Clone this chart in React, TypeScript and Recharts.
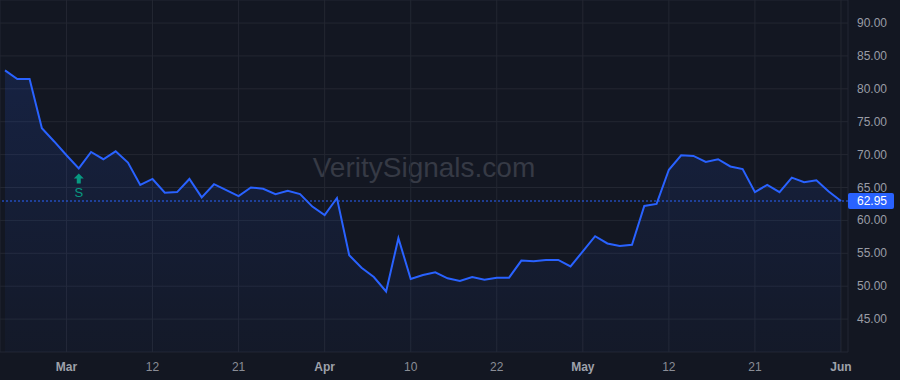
import { ComposedChart, Area, XAxis, YAxis, CartesianGrid, ReferenceLine, ReferenceDot } from "recharts";

// daily closes, one per trading bar
const prices = [
  82.8, 81.5, 81.5, 74.0, 72.0, 69.9, 67.9, 70.4, 69.3, 70.5,
  68.8, 65.4, 66.3, 64.2, 64.3, 66.3, 63.5, 65.5, 64.6, 63.7,
  65.0, 64.8, 64.0, 64.5, 64.0, 62.1, 60.8, 63.4, 54.7, 52.8,
  51.4, 49.2, 57.3, 51.1, 51.7, 52.1, 51.2, 50.8, 51.4, 51.0,
  51.3, 51.3, 53.9, 53.8, 54.0, 54.0, 53.0, 55.3, 57.6, 56.5,
  56.1, 56.3, 62.2, 62.5, 67.7, 69.9, 69.8, 68.9, 69.3, 68.2,
  67.8, 64.3, 65.4, 64.3, 66.5, 65.8, 66.1, 64.4, 62.95,
];

const tickBars = [5, 12, 19, 26, 33, 40, 47, 54, 61, 68];
const tickLabels = ["Mar", "12", "21", "Apr", "10", "22", "May", "12", "21", "Jun"];
const monthLabels = ["Mar", "Apr", "May", "Jun"];
const priceTicks = [45, 50, 55, 60, 65, 70, 75, 80, 85, 90];

const signalBar = 6;
const signalText = "S";
const lastPrice = prices[prices.length - 1];

const data = prices.map((p, i) => ({ i, p }));

const FONT = "'Liberation Sans', Arial, sans-serif";
const BLUE = "#2962ff";
const TEAL = "#089981";

function XTick(props: any) {
  const idx = tickBars.indexOf(props.payload.value);
  const label = tickLabels[idx] ?? "";
  const isMonth = monthLabels.includes(label);
  return (
    <text
      x={props.x}
      y={371}
      textAnchor="middle"
      fontFamily={FONT}
      fontSize={12}
      fontWeight={isMonth ? 700 : 400}
      fill={isMonth ? "#9ea1aa" : "#8a8d96"}
    >
      {label}
    </text>
  );
}

function YTick(props: any) {
  return (
    <text x={857} y={props.y} dy={4} textAnchor="start" fontFamily={FONT} fontSize={12} fill="#9a9da6">
      {Number(props.payload.value).toFixed(2)}
    </text>
  );
}

function PriceLabel(props: any) {
  const vb = props.viewBox || {};
  const x = (vb.x ?? 0) + (vb.width ?? 0);
  const y = vb.y ?? 0;
  return (
    <g>
      <rect x={x} y={y - 8} width={46} height={16} rx={2} fill={BLUE} />
      <text x={x + 24} y={y + 4} textAnchor="middle" fontFamily={FONT} fontSize={12} fill="#ffffff">
        {lastPrice.toFixed(2)}
      </text>
    </g>
  );
}

function SignalMark(props: any) {
  const { cx, cy } = props;
  if (cx == null || cy == null) return null;
  const top = cy + 5;
  return (
    <g>
      <polygon
        points={`${cx},${top} ${cx + 5},${top + 5} ${cx + 2},${top + 5} ${cx + 2},${top + 10} ${cx - 2},${top + 10} ${cx - 2},${top + 5} ${cx - 5},${top + 5}`}
        fill={TEAL}
      />
      <text x={cx} y={top + 24} textAnchor="middle" fontFamily={FONT} fontSize={13} fill={TEAL}>
        {signalText}
      </text>
    </g>
  );
}

export default function App() {
  return (
    <div style={{ position: "relative", width: 900, height: 380, background: "#131722", overflow: "hidden" }}>
      <style>{`body{margin:0}`}</style>
      <div
        style={{
          position: "absolute",
          left: 0,
          width: 848,
          top: 152,
          textAlign: "center",
          fontFamily: FONT,
          fontSize: 28,
          color: "#363a45",
          pointerEvents: "none",
        }}
      >
        VeritySignals.com
      </div>
      <div style={{ position: "absolute", left: 0, top: 0 }}>
        <ComposedChart width={900} height={380} data={data} margin={{ top: 0, right: 0, bottom: 0, left: 0 }}>
          <defs>
            <linearGradient id="areaFill" x1="0" y1="0" x2="0" y2="1">
              <stop offset="0%" stopColor={BLUE} stopOpacity={0.24} />
              <stop offset="100%" stopColor={BLUE} stopOpacity={0.05} />
            </linearGradient>
          </defs>
          <CartesianGrid stroke="#232732" />
          <XAxis
            dataKey="i"
            type="number"
            domain={[-0.407, 68.57]}
            ticks={tickBars}
            allowDataOverflow
            axisLine={false}
            tickLine={false}
            height={28}
            tick={<XTick />}
            interval={0}
          />
          <YAxis
            orientation="right"
            type="number"
            domain={[40, 93.5]}
            ticks={priceTicks}
            allowDataOverflow
            axisLine={false}
            tickLine={false}
            width={52}
            tick={<YTick />}
            interval={0}
          />
          <Area
            type="linear"
            dataKey="p"
            stroke={BLUE}
            strokeWidth={2}
            fill="url(#areaFill)"
            isAnimationActive={false}
            dot={false}
            activeDot={false}
          />
          <ReferenceLine y={lastPrice} stroke={BLUE} strokeDasharray="2 2" strokeWidth={1} label={<PriceLabel />} />
          <ReferenceDot x={signalBar} y={prices[signalBar]} shape={<SignalMark />} />
        </ComposedChart>
      </div>
    </div>
  );
}
